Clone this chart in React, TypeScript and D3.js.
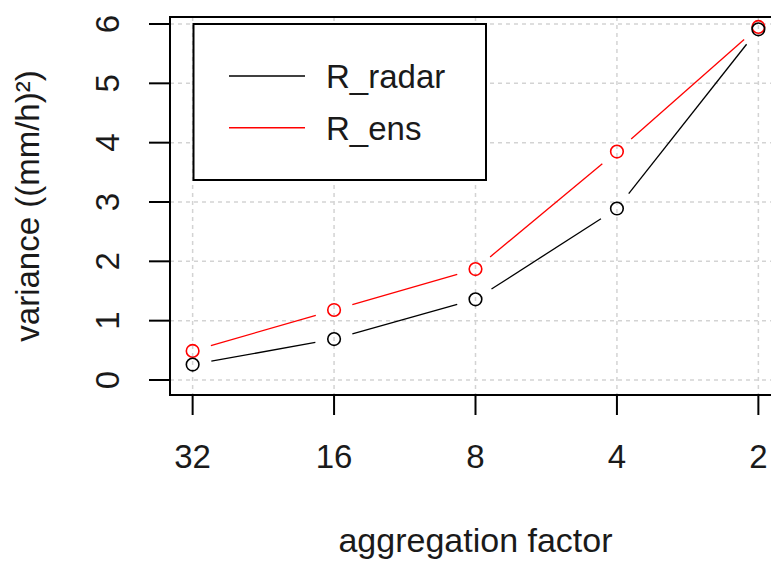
import React from "react";
import * as d3 from "d3";

const categories = ["32", "16", "8", "4", "2"];
const radar = [0.26, 0.69, 1.36, 2.89, 5.91];
const ens = [0.49, 1.18, 1.87, 3.85, 5.95];
const yTicks = [0, 1, 2, 3, 4, 5, 6];
const seriesNames = ["R_radar", "R_ens"];
const seriesColors = ["#000000", "#ff0000"];

const W = 771;
const H = 561;
const FONT = "'Liberation Sans', Arial, sans-serif";

export default function App() {
  const x = d3.scaleLinear().domain([-0.16, categories.length - 1 + 0.16]).range([170, 781]);
  const y = d3.scaleLinear().domain([-0.253, 6.118]).range([395, 17]);
  const left = 170, right = 781, top = 17, bottom = 395;
  const gap = 19;

  const series = [
    { name: seriesNames[1], color: seriesColors[1], values: ens },
    { name: seriesNames[0], color: seriesColors[0], values: radar },
  ];

  const segs = (vals: number[]) => {
    const out: { x1: number; y1: number; x2: number; y2: number }[] = [];
    for (let i = 0; i < vals.length - 1; i++) {
      const ax = x(i), ay = y(vals[i]), bx = x(i + 1), by = y(vals[i + 1]);
      const dx = bx - ax, dy = by - ay;
      const len = Math.sqrt(dx * dx + dy * dy);
      if (len <= 2 * gap) continue;
      const ux = dx / len, uy = dy / len;
      out.push({ x1: ax + ux * gap, y1: ay + uy * gap, x2: bx - ux * gap, y2: by - uy * gap });
    }
    return out;
  };

  const lx = 193.5, ly = 24, lw = 292.5, lh = 156;
  const legendRows = [76, 127.7];

  return (
    <svg width={W} height={H} style={{ position: "absolute", left: 0, top: 0, background: "#fff" }} fontFamily={FONT}>
      <rect x={0} y={0} width={W} height={H} fill="#fff" />
      <defs>
        <clipPath id="plotclip">
          <rect x={left} y={top} width={right - left} height={bottom - top} />
        </clipPath>
      </defs>
      {/* grid */}
      <g stroke="#d3d3d3" strokeWidth={1.5} strokeDasharray="4,4">
        {categories.map((c, i) => (
          <line key={"gx" + c} x1={x(i)} x2={x(i)} y1={top} y2={bottom} />
        ))}
        {yTicks.map((t) => (
          <line key={"gy" + t} x1={left} x2={right} y1={y(t)} y2={y(t)} />
        ))}
      </g>
      {/* series */}
      <g clipPath="url(#plotclip)">
        {series.map((s) => (
          <g key={s.name}>
            {segs(s.values).map((sg, i) => (
              <line key={i} {...sg} stroke={s.color} strokeWidth={1.3} />
            ))}
            {s.values.map((v, i) => (
              <circle key={"p" + i} cx={x(i)} cy={y(v)} r={6.3} fill="none" stroke={s.color} strokeWidth={1.6} />
            ))}
          </g>
        ))}
      </g>
      {/* box */}
      <rect x={left} y={top} width={right - left} height={bottom - top} fill="none" stroke="#000" strokeWidth={2} />
      {/* y axis */}
      <g>
        {yTicks.map((t) => (
          <g key={"yt" + t}>
            <line x1={149} x2={left} y1={y(t)} y2={y(t)} stroke="#000" strokeWidth={2} />
            <text
              transform={`translate(119,${y(t)}) rotate(-90)`}
              textAnchor="middle"
              fontSize={33}
              fill="#1a1a1a"
            >
              {t}
            </text>
          </g>
        ))}
      </g>
      {/* x axis */}
      <g>
        {categories.map((c, i) => (
          <g key={"xt" + c}>
            <line x1={x(i)} x2={x(i)} y1={bottom} y2={415} stroke="#000" strokeWidth={2} />
            <text x={x(i)} y={468} textAnchor="middle" fontSize={33} fill="#1a1a1a">
              {c}
            </text>
          </g>
        ))}
      </g>
      {/* axis titles */}
      <text x={(left + right) / 2} y={552} textAnchor="middle" fontSize={34} fill="#1a1a1a">
        aggregation factor
      </text>
      <text transform={`translate(39,${(top + bottom) / 2}) rotate(-90)`} textAnchor="middle" fontSize={33} fill="#1a1a1a">
        variance ((mm/h)²)
      </text>
      {/* legend */}
      <rect x={lx} y={ly} width={lw} height={lh} fill="#fff" stroke="#000" strokeWidth={2} />
      {seriesNames.map((n, i) => (
        <g key={"lg" + n}>
          <line x1={229} x2={305} y1={legendRows[i]} y2={legendRows[i]} stroke={seriesColors[i]} strokeWidth={1.5} />
          <text x={326} y={legendRows[i] + 12} fontSize={33} fill="#1a1a1a">
            {n}
          </text>
        </g>
      ))}
    </svg>
  );
}
